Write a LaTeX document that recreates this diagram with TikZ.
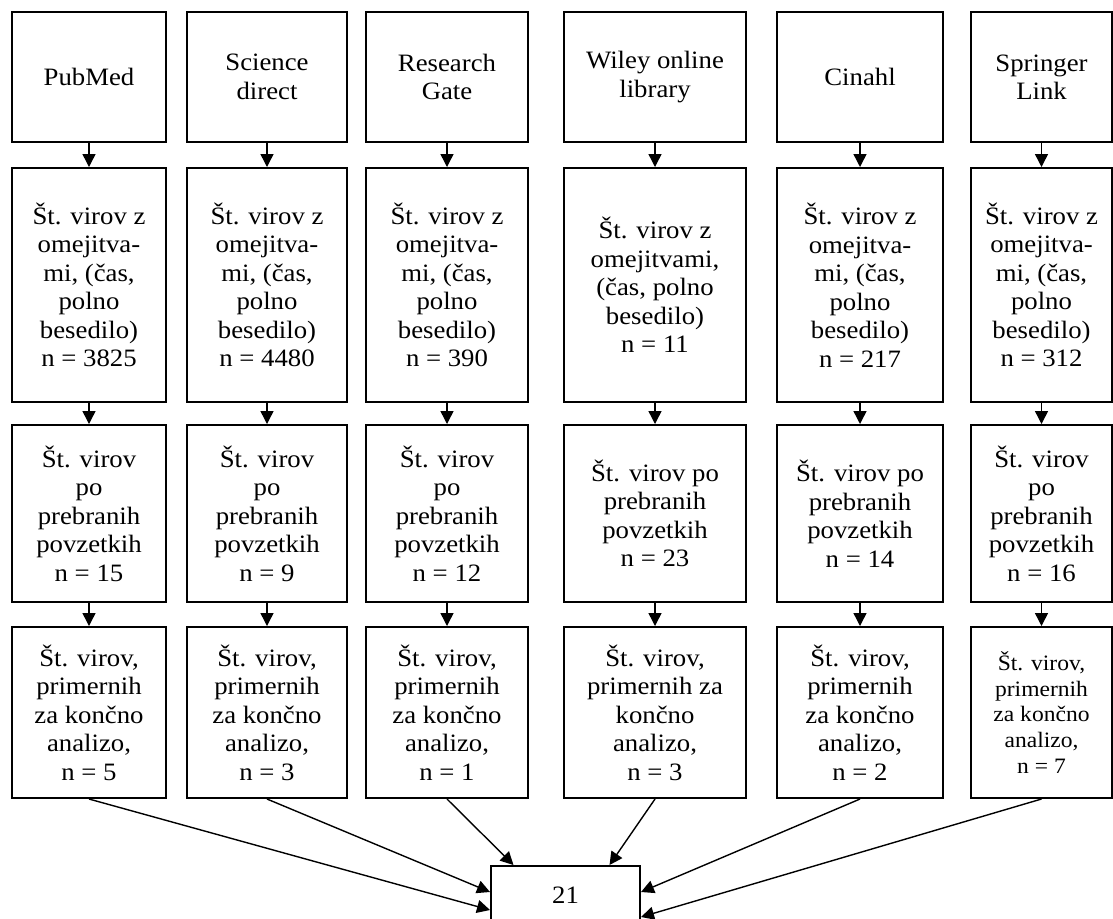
\documentclass[tikz,border=0pt]{standalone}
\usepackage{fontspec}
\setmainfont{Liberation Serif}[FakeStretch=1.07]
\usetikzlibrary{arrows.meta}

\begin{document}
\begin{tikzpicture}[x=0.5pt, y=-0.5pt,
    polje/.style={draw, line width=1pt, align=center, inner sep=2pt, font=\fontsize{12.5}{14.25}\selectfont},
    vrsta1/.style={polje, minimum height=65pt},
    vrsta2/.style={polje, minimum height=117pt},
    vrsta3/.style={polje, minimum height=88.5pt},
    vrsta4/.style={polje, minimum height=85.5pt},
    puscica/.style={-{Triangle[width=6.5pt, length=6.5pt]}, line width=0.7pt}]
    \useasboundingbox (0,0) rectangle (1113,918);
    \node[vrsta1, minimum width=77pt] (pm1) at (89,77) {PubMed};
    \node[vrsta1, minimum width=80pt] (sd1) at (267,77) {Science\\direct};
    \node[vrsta1, minimum width=81pt] (rg1) at (447,77) {Research\\Gate};
    \node[vrsta1, minimum width=91pt] (wl1) at (655,77) {Wiley online\\library};
    \node[vrsta1, minimum width=83pt] (ci1) at (860,77) {Cinahl};
    \node[vrsta1, minimum width=70.5pt] (sl1) at (1041.5,77) {Springer\\Link};
    \node[vrsta2, minimum width=77pt] (pm2) at (89,285) {Št. virov z\\omejitva-\\mi, (čas,\\polno\\besedilo)\\n = 3825};
    \node[vrsta2, minimum width=80pt] (sd2) at (267,285) {Št. virov z\\omejitva-\\mi, (čas,\\polno\\besedilo)\\n = 4480};
    \node[vrsta2, minimum width=81pt] (rg2) at (447,285) {Št. virov z\\omejitva-\\mi, (čas,\\polno\\besedilo)\\n = 390};
    \node[vrsta2, minimum width=91pt] (wl2) at (655,285) {Št. virov z\\omejitvami,\\(čas, polno\\besedilo)\\n = 11};
    \node[vrsta2, minimum width=83pt] (ci2) at (860,285) {Št. virov z\\omejitva-\\mi, (čas,\\polno\\besedilo)\\n = 217};
    \node[vrsta2, minimum width=70.5pt] (sl2) at (1041.5,285) {Št. virov z\\omejitva-\\mi, (čas,\\polno\\besedilo)\\n = 312};
    \node[vrsta3, minimum width=77pt] (pm3) at (89,513.5) {Št. virov\\po\\prebranih\\povzetkih\\n = 15};
    \node[vrsta3, minimum width=80pt] (sd3) at (267,513.5) {Št. virov\\po\\prebranih\\povzetkih\\n = 9};
    \node[vrsta3, minimum width=81pt] (rg3) at (447,513.5) {Št. virov\\po\\prebranih\\povzetkih\\n = 12};
    \node[vrsta3, minimum width=91pt] (wl3) at (655,513.5) {Št. virov po\\prebranih\\povzetkih\\n = 23};
    \node[vrsta3, minimum width=83pt] (ci3) at (860,513.5) {Št. virov po\\prebranih\\povzetkih\\n = 14};
    \node[vrsta3, minimum width=70.5pt] (sl3) at (1041.5,513.5) {Št. virov\\po\\prebranih\\povzetkih\\n = 16};
    \node[vrsta4, minimum width=77pt] (pm4) at (89,712.5) {Št. virov,\\primernih\\za končno\\analizo,\\n = 5};
    \node[vrsta4, minimum width=80pt] (sd4) at (267,712.5) {Št. virov,\\primernih\\za končno\\analizo,\\n = 3};
    \node[vrsta4, minimum width=81pt] (rg4) at (447,712.5) {Št. virov,\\primernih\\za končno\\analizo,\\n = 1};
    \node[vrsta4, minimum width=91pt] (wl4) at (655,712.5) {Št. virov,\\primernih za\\končno\\analizo,\\n = 3};
    \node[vrsta4, minimum width=83pt] (ci4) at (860,712.5) {Št. virov,\\primernih\\za končno\\analizo,\\n = 2};
    \node[vrsta4, minimum width=70.5pt, font=\fontsize{11}{12.9}\selectfont] (sl4) at (1041.5,712.5) {Št. virov,\\primernih\\za končno\\analizo,\\n = 7};
    \node[polje, minimum width=74.5pt, minimum height=29pt] (skupaj) at (565.5,895) {21};
    \draw[puscica] (pm1) -- (pm2);
    \draw[puscica] (pm2) -- (pm3);
    \draw[puscica] (pm3) -- (pm4);
    \draw[puscica] (sd1) -- (sd2);
    \draw[puscica] (sd2) -- (sd3);
    \draw[puscica] (sd3) -- (sd4);
    \draw[puscica] (rg1) -- (rg2);
    \draw[puscica] (rg2) -- (rg3);
    \draw[puscica] (rg3) -- (rg4);
    \draw[puscica] (wl1) -- (wl2);
    \draw[puscica] (wl2) -- (wl3);
    \draw[puscica] (wl3) -- (wl4);
    \draw[puscica] (ci1) -- (ci2);
    \draw[puscica] (ci2) -- (ci3);
    \draw[puscica] (ci3) -- (ci4);
    \draw[puscica] (sl1) -- (sl2);
    \draw[puscica] (sl2) -- (sl3);
    \draw[puscica] (sl3) -- (sl4);
    \draw[puscica] (pm4.south) -- ([yshift=-7.5pt]skupaj.west);
    \draw[puscica] (sd4.south) -- ([yshift=1.5pt]skupaj.west);
    \draw[puscica] (rg4.south) -- ([xshift=-26pt]skupaj.north);
    \draw[puscica] (wl4.south) -- ([xshift=22pt]skupaj.north);
    \draw[puscica] (ci4.south) -- ([yshift=1.5pt]skupaj.east);
    \draw[puscica] (sl4.south) -- ([yshift=-11pt]skupaj.east);
\end{tikzpicture}
\end{document}
